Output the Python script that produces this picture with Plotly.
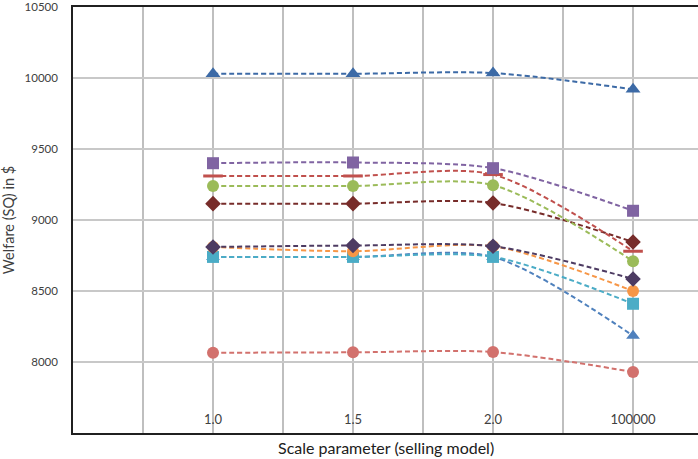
import plotly.graph_objects as go

categories = ["1.0", "1.5", "2.0", "100000"]
x_pos = [1, 2, 3, 4]

s1 = [10030, 10030, 10035, 9920]
s2 = [9400, 9405, 9365, 9065]
s3 = [9310, 9310, 9320, 8780]
s4 = [9240, 9240, 9245, 8710]
s5 = [9115, 9115, 9120, 8845]
s6 = [8810, 8820, 8815, 8585]
s7 = [8810, 8780, 8815, 8500]
s8 = [8740, 8740, 8740, 8410]
s9 = [8740, 8740, 8740, 8185]
s10 = [8065, 8068, 8070, 7930]

styles = [
    (s9, "#4F81BD", "triangle-up", 12),
    (s10, "#D2716D", "circle", 12),
    (s8, "#4BACC6", "square", 12),
    (s7, "#F79646", "circle", 12),
    (s6, "#4D3B62", "diamond", 12),
    (s5, "#772C2A", "diamond", 12),
    (s4, "#9BBB59", "circle", 12),
    (s3, "#C0504D", "line-ew", 14),
    (s2, "#8064A2", "square", 12),
    (s1, "#3C6AA6", "triangle-up", 13),
]

fig = go.Figure()
for vals, col, sym, sz in styles:
    marker = dict(color=col, symbol=sym, size=sz)
    if sym == "line-ew":
        marker = dict(color=col, symbol=sym, size=sz, line=dict(color=col, width=3))
    fig.add_trace(go.Scatter(
        x=x_pos, y=vals, mode="lines+markers",
        line=dict(color=col, width=2, dash="5px,3px", shape="spline", smoothing=0.8),
        marker=marker, showlegend=False, cliponaxis=False,
    ))

fig.add_annotation(
    text="Scale parameter (selling model)", xref="paper", yref="paper",
    x=0.5, y=0, xanchor="center", yanchor="top", yshift=-3, showarrow=False,
    font=dict(size=16, color="#202020"),
)

fig.update_layout(
    width=698, height=459,
    margin=dict(l=73, r=0, t=7, b=26),
    plot_bgcolor="white", paper_bgcolor="white",
    font=dict(family="Lato, Open Sans, sans-serif", size=13, color="#404040"),
    xaxis=dict(
        range=[0, 4.464], tickmode="array", tickvals=x_pos, ticktext=categories,
        ticklabelposition="inside", ticks="", ticklabelstandoff=6,
        showgrid=True, gridcolor="#bfbfbf", gridwidth=1.5,
        minor=dict(dtick=0.5, tick0=0, showgrid=True, gridcolor="#bfbfbf", gridwidth=1.5),
        showline=True, linecolor="#202020", linewidth=1.5, mirror=True,
        zeroline=False, tickfont=dict(size=13, color="#404040"),
    ),
    yaxis=dict(
        range=[7500, 10500], dtick=500, tick0=7500, tickformat="d",
        showgrid=True, gridcolor="#c8c8c8", gridwidth=1.5,
        showline=True, linecolor="#202020", linewidth=1.5, zeroline=False,
        ticks="", ticklabelstandoff=11, tickfont=dict(size=11.5, color="#404040"),
        title=dict(text="Welfare (SQ) in $", font=dict(size=14.5, color="#404040"), standoff=10),
    ),
)

fig.write_html("out.html")
